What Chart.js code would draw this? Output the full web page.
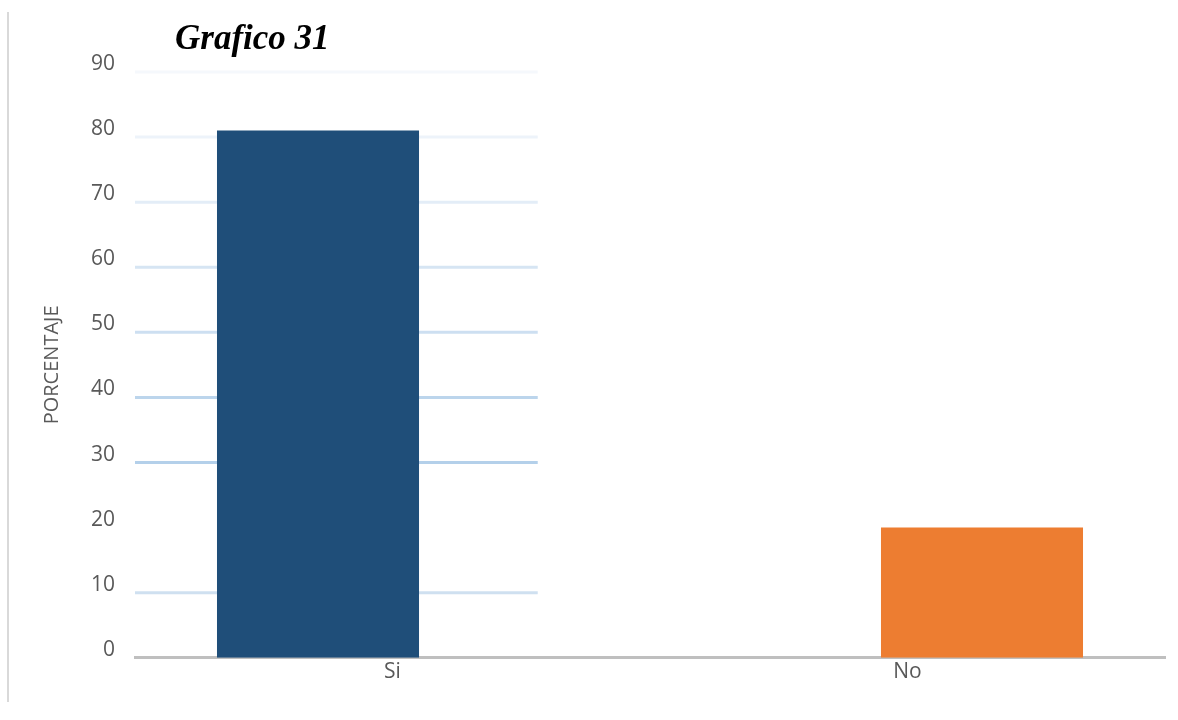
<!DOCTYPE html>
<html>
<head>
<meta charset="utf-8">
<script src="https://cdn.jsdelivr.net/npm/chart.js@4.4.1/dist/chart.umd.min.js"></script>
<style>
    body { margin: 0; background: #fff; }
    #wrap { position: relative; width: 1178px; height: 720px; }
    #left-rule { position: absolute; left: 7px; top: 12px; width: 2px; height: 690px; background: #d9d9d9; }
    #title {
        position: absolute; left: 175px; top: 18px;
        font: italic bold 35px "Liberation Serif", "DejaVu Serif", serif; color: #000;
    }
    canvas { position: absolute; left: 0; top: 0; }
</style>
</head>
<body>
<div id="wrap">
    <div id="left-rule"></div>
    <canvas id="chart1" width="1178" height="720"></canvas>
    <div id="title">Grafico 31</div>
</div>
<script>
'use strict';

const categories = ["Si", "No"];
const si_values = [81, null];
const no_values = [null, 20];
const y_ticks = [0, 10, 20, 30, 40, 50, 60, 70, 80, 90];

// gridline colour per tick (index = tick / 10); the 0 and 20 lines are not drawn in the original
const grid_colors = [null, '#cfe0f0', null, '#b4d0ea', '#bcd5ec', '#cddff1', '#d6e5f3', '#e3edf7', '#edf3fa', '#f5f8fc'];

// the original only draws its gridlines across the left part of the plot
const partial_grid = {
    id: 'partial_grid',
    beforeDatasetsDraw(chart) {
        const { ctx, chartArea, scales } = chart;
        const right = chartArea.left + chartArea.width * 0.391;
        ctx.save();
        ctx.lineWidth = 3;
        for (const value of y_ticks) {
            const color = grid_colors[value / 10];
            if (!color) continue;
            const y = scales.y.getPixelForValue(value);
            ctx.strokeStyle = color;
            ctx.beginPath();
            ctx.moveTo(chartArea.left, y);
            ctx.lineTo(right, y);
            ctx.stroke();
        }
        ctx.restore();
    }
};

const tick_font = { family: '"Open Sans", "Noto Sans", sans-serif', size: 21 };

new Chart(document.querySelector('#chart1'), {
    type: 'bar',
    data: {
        labels: categories,
        datasets: [
            { label: 'Si', data: si_values, backgroundColor: '#1f4e79' },
            { label: 'No', data: no_values, backgroundColor: '#ed7d31' }
        ]
    },
    options: {
        responsive: false,
        animation: false,
        categoryPercentage: 0.5786,
        barPercentage: 1.356,
        layout: { padding: { top: 72, left: 33, right: 13, bottom: 33 } },
        plugins: {
            legend: { display: false },
            tooltip: { enabled: false }
        },
        scales: {
            x: {
                grid: { display: false, drawTicks: false },
                border: { display: true, color: '#bfbfbf', width: 3 },
                ticks: { color: '#595959', font: tick_font, padding: 2 }
            },
            y: {
                min: 0,
                max: 90,
                afterFit: scale => { scale.width = 102; },
                afterBuildTicks: scale => { scale.ticks = y_ticks.map(v => ({ value: v })); },
                grid: { display: false, drawTicks: false },
                border: { display: false },
                ticks: { color: '#595959', font: tick_font, padding: 20, labelOffset: -8 },
                title: {
                    display: true,
                    text: 'PORCENTAJE',
                    color: '#595959',
                    font: { family: '"Open Sans", "Noto Sans", sans-serif', size: 20 },
                    padding: { top: 7, bottom: 0 }
                }
            }
        }
    },
    plugins: [partial_grid]
});
</script>
</body>
</html>
